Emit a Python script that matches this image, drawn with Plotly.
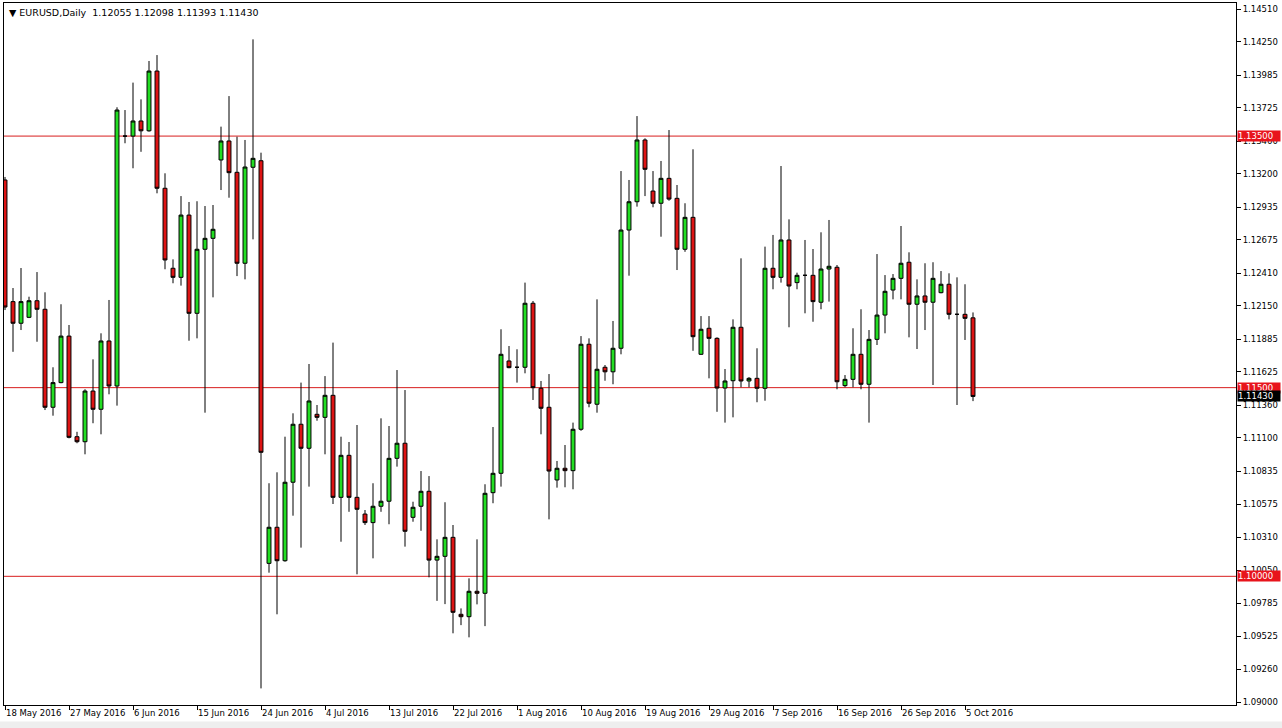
import plotly.graph_objects as go

# ---- data (EURUSD daily) ----
bar_index = list(range(122))

opens = [1.13151, 1.12184, 1.12012, 1.12059, 1.12191, 1.12123, 1.11344, 1.11540, 1.11910, 1.11110,
         1.11070, 1.11473, 1.11328, 1.11871, 1.11513, 1.13500, 1.13500, 1.13620, 1.13542, 1.14017,
         1.13085, 1.12449, 1.12377, 1.12872, 1.12091, 1.12600, 1.12687, 1.13310, 1.13461, 1.13212,
         1.12489, 1.13252, 1.13304, 1.10103, 1.10390, 1.10124, 1.10748, 1.11209, 1.11018, 1.11288,
         1.11264, 1.11439, 1.10628, 1.10962, 1.10628, 1.10495, 1.10427, 1.10557, 1.10597, 1.10938,
         1.11058, 1.10469, 1.10557, 1.10676, 1.10129, 1.10159, 1.10310, 1.09698, 1.09679, 1.09881,
         1.09865, 1.10665, 1.10819, 1.11712, 1.11662, 1.11662, 1.12171, 1.11495, 1.11344, 1.10766,
         1.10859, 1.10840, 1.11169, 1.11845, 1.11368, 1.11662, 1.11626, 1.11813, 1.12753, 1.12978,
         1.13469, 1.13063, 1.12966, 1.13164, 1.13005, 1.12600, 1.12854, 1.11765, 1.11972, 1.11892,
         1.11497, 1.11555, 1.11980, 1.11553, 1.11574, 1.11495, 1.12449, 1.12377, 1.12674, 1.12335,
         1.12393, 1.12393, 1.12179, 1.12443, 1.12457, 1.11516, 1.11566, 1.11765, 1.11527, 1.11884,
         1.12077, 1.12276, 1.12369, 1.12497, 1.12163, 1.12229, 1.12179, 1.12255, 1.12322, 1.12083,
         1.12083, 1.12055]
highs = [1.13175, 1.12292, 1.12451, 1.12223, 1.12419, 1.12258, 1.11662, 1.12163, 1.11998, 1.11149,
         1.11487, 1.11725, 1.11932, 1.12197, 1.13729, 1.13707, 1.13925, 1.13792, 1.14097, 1.14144,
         1.13204, 1.12520, 1.13023, 1.12976, 1.12982, 1.12944, 1.12952, 1.13575, 1.13818, 1.13495,
         1.13469, 1.14269, 1.13368, 1.10740, 1.10827, 1.11110, 1.11296, 1.11540, 1.11688, 1.11362,
         1.11592, 1.11858, 1.11110, 1.11068, 1.11203, 1.10527, 1.10740, 1.11256, 1.11195, 1.11640,
         1.11481, 1.10593, 1.10837, 1.10797, 1.10294, 1.10589, 1.10408, 1.09745, 1.09984, 1.10294,
         1.10732, 1.11187, 1.11964, 1.11831, 1.11805, 1.12335, 1.12189, 1.11553, 1.11608, 1.10917,
         1.11044, 1.11222, 1.11910, 1.11892, 1.12202, 1.11680, 1.12030, 1.13222, 1.13151, 1.13659,
         1.13482, 1.13222, 1.13302, 1.13548, 1.13111, 1.12966, 1.13395, 1.12069, 1.12069, 1.11900,
         1.11648, 1.12043, 1.12528, 1.11584, 1.11813, 1.12621, 1.12714, 1.13262, 1.12838, 1.12414,
         1.12674, 1.12602, 1.12735, 1.12833, 1.12475, 1.11600, 1.11972, 1.12123, 1.11958, 1.12562,
         1.12395, 1.12403, 1.12785, 1.12576, 1.12361, 1.12489, 1.12497, 1.12427, 1.12409, 1.12377,
         1.12322, 1.12098]
lows = [1.12117, 1.11785, 1.11958, 1.12053, 1.11865, 1.11322, 1.11277, 1.11535, 1.11097, 1.11058,
        1.10970, 1.11217, 1.11129, 1.11447, 1.11357, 1.13443, 1.13244, 1.13375, 1.13535, 1.13045,
        1.12441, 1.12330, 1.12311, 1.11873, 1.11892, 1.11301, 1.12218, 1.13071, 1.13010, 1.12387,
        1.12361, 1.12679, 1.09109, 1.10029, 1.09698, 1.10116, 1.10482, 1.10228, 1.10713, 1.11237,
        1.10970, 1.10575, 1.10275, 1.10513, 1.10016, 1.10408, 1.10143, 1.10513, 1.10414, 1.10872,
        1.10236, 1.10434, 1.10362, 1.09992, 1.09805, 1.09779, 1.09547, 1.09612, 1.09515, 1.09777,
        1.09604, 1.10581, 1.10713, 1.11654, 1.11540, 1.11614, 1.11402, 1.11129, 1.10453, 1.10705,
        1.10708, 1.10692, 1.11157, 1.11344, 1.11301, 1.11555, 1.11527, 1.11765, 1.12390, 1.12939,
        1.13023, 1.12934, 1.12700, 1.12986, 1.12435, 1.12580, 1.11793, 1.11760, 1.11574, 1.11308,
        1.11222, 1.11264, 1.11503, 1.11503, 1.11384, 1.11396, 1.12282, 1.12335, 1.11980, 1.12282,
        1.12091, 1.12024, 1.12123, 1.12184, 1.11487, 1.11503, 1.11503, 1.11487, 1.11222, 1.11839,
        1.11932, 1.12202, 1.12202, 1.11900, 1.11807, 1.11958, 1.11521, 1.12250, 1.12043, 1.11362,
        1.11879, 1.11393]
closes = [1.12141, 1.12012, 1.12184, 1.12191, 1.12123, 1.11344, 1.11540, 1.11910, 1.11105, 1.11070,
          1.11473, 1.11328, 1.11871, 1.11513, 1.13707, 1.13500, 1.13620, 1.13542, 1.14017, 1.13085,
          1.12515, 1.12377, 1.12872, 1.12091, 1.12600, 1.12687, 1.12759, 1.13461, 1.13209, 1.12489,
          1.13254, 1.13323, 1.10986, 1.10390, 1.10124, 1.10748, 1.11209, 1.11018, 1.11394, 1.11264,
          1.11439, 1.10628, 1.10962, 1.10628, 1.10533, 1.10427, 1.10557, 1.10597, 1.10938, 1.11058,
          1.10358, 1.10549, 1.10676, 1.10129, 1.10159, 1.10310, 1.09714, 1.09679, 1.09881, 1.09865,
          1.10660, 1.10819, 1.11765, 1.11659, 1.11662, 1.12171, 1.11500, 1.11336, 1.10837, 1.10859,
          1.10840, 1.11169, 1.11845, 1.11376, 1.11646, 1.11626, 1.11813, 1.12753, 1.12978, 1.13469,
          1.13236, 1.12966, 1.13164, 1.12999, 1.12600, 1.12854, 1.11905, 1.11964, 1.11892, 1.11497,
          1.11553, 1.11980, 1.11553, 1.11574, 1.11495, 1.12449, 1.12377, 1.12674, 1.12308, 1.12393,
          1.12393, 1.12184, 1.12443, 1.12465, 1.11547, 1.11566, 1.11765, 1.11527, 1.11884, 1.12077,
          1.12266, 1.12369, 1.12489, 1.12163, 1.12229, 1.12179, 1.12369, 1.12322, 1.12083, 1.12083,
          1.12051, 1.11430]

date_tick_bars = [0, 8, 16, 24, 32, 40, 48, 56, 64, 72, 80, 88, 96, 104, 112, 120]
date_tick_labels = ["18 May 2016", "27 May 2016", "6 Jun 2016", "15 Jun 2016", "24 Jun 2016",
                    "4 Jul 2016", "13 Jul 2016", "22 Jul 2016", "1 Aug 2016", "10 Aug 2016",
                    "19 Aug 2016", "29 Aug 2016", "7 Sep 2016", "16 Sep 2016", "26 Sep 2016",
                    "5 Oct 2016"]

price_ticks = [1.14510, 1.14250, 1.13985, 1.13725, 1.13460, 1.13200, 1.12935, 1.12675, 1.12410,
               1.12150, 1.11885, 1.11625, 1.11360, 1.11100, 1.10835, 1.10575, 1.10310, 1.10050,
               1.09785, 1.09525, 1.09260, 1.09000]

level_lines = [1.13500, 1.11500, 1.10000]
last_price = 1.11430
header_text = "\u25bc EURUSD,Daily\u00a0\u00a01.12055 1.12098 1.11393 1.11430"

GREEN = "#22DD22"
RED = "#DD1414"
LINE_RED = "#D81E1E"
FONT = "DejaVu Sans"
FS = 8.5

fig = go.Figure()
fig.add_trace(go.Candlestick(
    x=bar_index, open=opens, high=highs, low=lows, close=closes,
    increasing=dict(fillcolor=GREEN, line=dict(color="black", width=1)),
    decreasing=dict(fillcolor=RED, line=dict(color="black", width=1)),
    whiskerwidth=0, showlegend=False, hoverinfo="skip",
))

shapes = []
for lv in level_lines:
    shapes.append(dict(type="line", xref="paper", x0=0, x1=1, yref="y", y0=lv, y1=lv,
                       line=dict(color=LINE_RED, width=1), layer="below"))
# window frame strip (grey) at bottom
shapes.append(dict(type="rect", xref="paper", x0=-0.01, x1=1.05, yref="paper",
                   y0=-0.045, y1=-0.0235, fillcolor="#EEEEEE", line=dict(width=0), layer="below"))

annotations = [dict(xref="paper", yref="paper", x=0, y=1, xanchor="left", yanchor="top",
                    xshift=3, yshift=-2, text=header_text, showarrow=False,
                    font=dict(family=FONT, size=9.5, color="black"))]
for lv in level_lines:
    annotations.append(dict(xref="paper", yref="y", x=1, y=lv, xanchor="left", yanchor="middle",
                            xshift=1, text=f"{lv:.5f}", showarrow=False, bgcolor="#E8141C",
                            width=42, align="left", borderpad=0,
                            font=dict(family=FONT, size=FS, color="white")))
annotations.append(dict(xref="paper", yref="y", x=1, y=last_price, xanchor="left", yanchor="middle",
                        xshift=1, text=f"{last_price:.5f}", showarrow=False, bgcolor="black",
                        width=42, align="left", borderpad=0,
                        font=dict(family=FONT, size=FS, color="white")))

fig.update_layout(
    width=1282, height=728, autosize=False,
    margin=dict(l=4, r=46, t=3, b=23, autoexpand=False),
    paper_bgcolor="white", plot_bgcolor="white",
    font=dict(family=FONT, size=FS, color="black"),
    shapes=shapes, annotations=annotations,
    showlegend=False,
    xaxis=dict(range=[-0.125, 153.875], rangeslider=dict(visible=False),
               showgrid=False, zeroline=False, showline=True, mirror=True,
               linecolor="black", linewidth=1, ticks="outside", ticklen=4,
               tickcolor="black", tickvals=date_tick_bars, ticktext=date_tick_labels,
               tickangle=0, automargin=False,
               ticklabelposition="outside right", tickfont=dict(family=FONT, size=FS)),
    yaxis=dict(range=[1.08977, 1.14558], side="right", showgrid=False, zeroline=False,
               showline=True, mirror=True, linecolor="black", linewidth=1,
               ticks="outside", ticklen=4, tickcolor="black", automargin=False,
               tickvals=price_ticks, ticktext=[f"{v:.5f}" for v in price_ticks],
               tickfont=dict(family=FONT, size=FS)),
)

fig.write_html("out.html", config={"displayModeBar": False},
               post_script="document.body.style.margin='0px';document.body.style.overflow='hidden';")
